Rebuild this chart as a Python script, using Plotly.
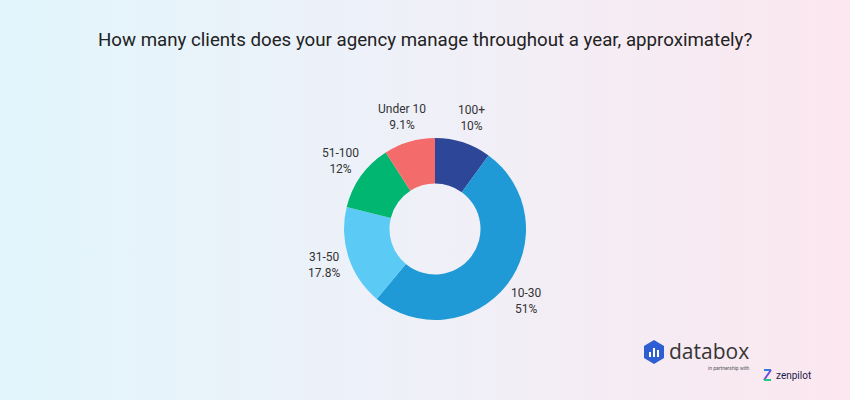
import base64, math
import plotly.graph_objects as go

categories = ["100+", "10-30", "31-50", "51-100", "Under 10"]
values = [10, 51, 17.8, 12, 9.1]
value_labels = ["10%", "51%", "17.8%", "12%", "9.1%"]
colors = ["#2e4698", "#1f9ad6", "#5bcbf5", "#00b670", "#f46b6b"]
title_text = "How many clients does your agency manage throughout a year, approximately?"

W, H = 850, 400
cx, cy, R = 435, 229, 91  # pie centre / radius in pixels

def px(x):
    return x / W

def py(y):
    return 1 - y / H

fig = go.Figure()
fig.add_trace(go.Pie(
    labels=categories, values=values, hole=0.5, sort=False, direction="clockwise",
    rotation=0, marker=dict(colors=colors, line=dict(width=0)),
    textinfo="none", hoverinfo="label+percent", showlegend=False,
    domain=dict(x=[px(cx - R), px(cx + R)], y=[py(cy + R), py(cy - R)]),
))

def ann(x, y, text, size, color, family="Roboto", xanchor="center"):
    return dict(x=px(x), y=py(y), xref="paper", yref="paper", showarrow=False,
                xanchor=xanchor, yanchor="middle", text=text, align="center",
                font=dict(family=family, size=size, color=color))

# labels placed at slice mid-angles
total = sum(values)
cum = 0
annotations = []
for cat, v, lab in zip(categories, values, value_labels):
    mid = (cum + v / 2) / total * 2 * math.pi
    cum += v
    rl = R * 1.28
    lx = cx + rl * math.sin(mid)
    ly = cy - rl * math.cos(mid)
    annotations.append(ann(lx, ly, f"{cat}<br>{lab}", 12, "#333333"))

annotations.append(ann(425, 40, title_text, 18.7, "#222222"))
# logo texts
annotations.append(ann(667, 351, "databox", 21, "#353535", family="Open Sans", xanchor="left"))
annotations.append(ann(729, 368, "in partnership with", 5, "#555555"))
annotations.append(ann(774, 375, "zenpilot", 10, "#1b1b4b", xanchor="left"))

svg = (
    f'<svg xmlns="http://www.w3.org/2000/svg" width="{W}" height="{H}">'
    '<defs><linearGradient id="g" x1="0" y1="0" x2="1" y2="0">'
    '<stop offset="0" stop-color="#e2f5fc"/>'
    '<stop offset="0.5" stop-color="#eff0f8"/>'
    '<stop offset="1" stop-color="#fce7ef"/>'
    '</linearGradient></defs>'
    f'<rect width="{W}" height="{H}" fill="url(#g)"/></svg>'
)
bg = "data:image/svg+xml;base64," + base64.b64encode(svg.encode()).decode()

def path(points):
    return "M " + " L ".join(f"{px(x)},{py(y)}" for x, y in points) + " Z"

shapes = []
# databox hexagon icon
shapes.append(dict(type="path", xref="paper", yref="paper", line=dict(width=0),
                   fillcolor="#2f5ed3",
                   path=path([(654, 340), (664, 346), (664, 358), (654, 364), (644, 358), (644, 346)])))
for bx, bh in [(650, 5), (654, 9), (658, 7)]:
    shapes.append(dict(type="rect", xref="paper", yref="paper", line=dict(width=0),
                       fillcolor="white", x0=px(bx - 1), x1=px(bx + 1), y0=py(357), y1=py(357 - bh)))
# zenpilot icon
shapes.append(dict(type="line", xref="paper", yref="paper", line=dict(color="#2f7de1", width=2),
                   x0=px(764), y0=py(370), x1=px(771), y1=py(370)))
shapes.append(dict(type="line", xref="paper", yref="paper", line=dict(color="#6b4fe0", width=2),
                   x0=px(771), y0=py(370), x1=px(764), y1=py(380)))
shapes.append(dict(type="line", xref="paper", yref="paper", line=dict(color="#1ec98a", width=2),
                   x0=px(764), y0=py(380), x1=px(771), y1=py(380)))

fig.update_layout(
    width=W, height=H, margin=dict(l=0, r=0, t=0, b=0),
    paper_bgcolor="rgba(0,0,0,0)", plot_bgcolor="rgba(0,0,0,0)",
    images=[dict(source=bg, xref="paper", yref="paper", x=0, y=1, sizex=1, sizey=1,
                 xanchor="left", yanchor="top", sizing="stretch", layer="below")],
    annotations=annotations, shapes=shapes,
)
fig.write_html("out.html", config={"displayModeBar": False},
               post_script="document.body.style.margin='0';document.body.style.overflow='hidden';")
